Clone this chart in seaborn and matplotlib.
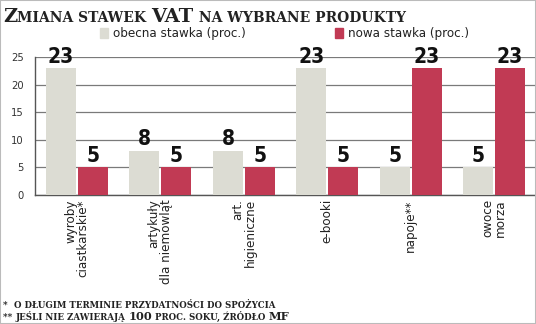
import matplotlib
matplotlib.use("Agg")
import matplotlib.pyplot as plt
import seaborn as sns
import pandas as pd
from matplotlib.patches import Rectangle

categories = ["wyroby\nciastkarskie*", "artykuły\ndla niemowląt", "art.\nhigieniczne",
              "e-booki", "napoje**", "owoce\nmorza"]
obecna = [23, 8, 8, 23, 5, 5]
nowa = [5, 5, 5, 5, 23, 23]
series = ["obecna stawka (proc.)", "nowa stawka (proc.)"]
colors = ["#dcdcd3", "#c13a54"]
yticks = [0, 5, 10, 15, 20, 25]

df = pd.DataFrame({
    "cat": categories * 2,
    "val": obecna + nowa,
    "series": [series[0]] * len(categories) + [series[1]] * len(categories),
})

sns.set_style("white")
SERIF = ["DejaVu Serif"]
plt.rcParams["font.family"] = ["DejaVu Sans"]
plt.rcParams["font.stretch"] = "condensed"

W, H = 536, 324
fig = plt.figure(figsize=(W / 100, H / 100), dpi=100)
ax = fig.add_axes([35 / W, 1 - 195 / H, 1 - 35 / W, (195 - 57) / H])

sns.barplot(data=df, x="cat", y="val", hue="series", palette=colors, ax=ax,
            width=0.76, gap=0.05, saturation=1, legend=False, zorder=3,
            linewidth=0, edgecolor="none")
ax.set_ylim(0, 25)
ax.set_xlim(-0.5, len(categories) - 0.5)
ax.set_yticks(yticks)
ax.yaxis.grid(True, color="#7a7a7a", linewidth=0.9, zorder=0)
ax.set_axisbelow(True)
for s in ["top", "right"]:
    ax.spines[s].set_visible(False)
for s in ["left", "bottom"]:
    ax.spines[s].set_color("#555555")
    ax.spines[s].set_linewidth(1.0)
ax.set_xlabel("")
ax.set_ylabel("")
ax.tick_params(axis="y", length=0, labelsize=8, labelcolor="#333333", pad=8)
ax.tick_params(axis="x", length=0, pad=3)
ax.set_xticks(range(len(categories)))
ax.set_xticklabels(categories, rotation=90, ha="center", va="top",
                   multialignment="right", fontsize=9.5, color="#222222",
                   linespacing=0.95, fontstretch="condensed")

for cont in ax.containers:
    ax.bar_label(cont, fmt="%d", padding=1, fontsize=15, fontweight="bold",
                 fontstretch="condensed", color="#111111", clip_on=False)

# legend
for (lbl, col, x0) in [(series[0], colors[0], 100), (series[1], colors[1], 335)]:
    fig.patches.append(Rectangle((x0 / W, 1 - 38 / H), 8 / W, 10 / H,
                                 transform=fig.transFigure, color=col, figure=fig))
    fig.text((x0 + 13) / W, 1 - 33 / H, lbl, fontsize=9.5, color="#222222",
             va="center", ha="left", fontstretch="condensed")

# small caps helper
fig.canvas.draw()
renderer = fig.canvas.get_renderer()

def smallcaps(x_px, y_px, segments, color="#222222"):
    x = x_px
    for text, size in segments:
        t = fig.text(x / W, 1 - y_px / H, text, fontsize=size, fontweight="bold",
                     family=SERIF, fontstretch="normal", color=color,
                     va="baseline", ha="left")
        bb = t.get_window_extent(renderer)
        x += bb.width

smallcaps(3, 22, [("Z", 14), ("MIANA STAWEK ", 10.0), ("VAT", 14),
                  (" NA WYBRANE PRODUKTY", 10.0)])
smallcaps(3, 308, [("*  ", 6.5), ("O DŁUGIM TERMINIE PRZYDATNOŚCI DO SPOŻYCIA", 6.2)])
smallcaps(3, 320, [("** ", 6.5), ("JEŚLI NIE ZAWIERAJĄ ", 6.2), ("100", 8.2),
                   (" PROC. SOKU, ŹRÓDŁO ", 6.2), ("MF", 8.2)])

fig.patches.append(Rectangle((0, 0), 1, 1, transform=fig.transFigure, fill=False,
                             edgecolor="#bbbbbb", linewidth=1.5, figure=fig))

fig.savefig("out.png", dpi=100)
